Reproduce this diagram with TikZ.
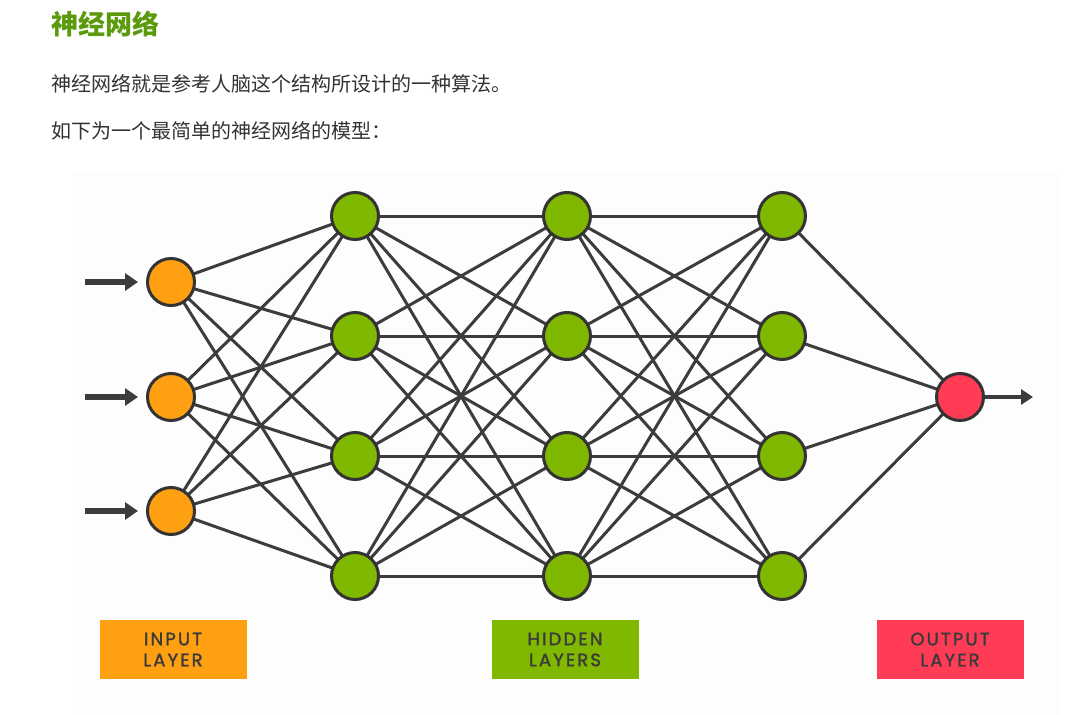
\documentclass[tikz,border=0pt]{standalone}
\usepackage{fontspec}
\newfontfamily\cjk{Noto Sans CJK SC}
\newfontfamily\labelfont[LetterSpace=12,FakeBold=1.6]{Poppins}
\usetikzlibrary{arrows.meta}
\definecolor{titlegreen}{HTML}{5B9A0C}
\definecolor{bodytext}{HTML}{333333}
\definecolor{inorange}{HTML}{FFA012}
\definecolor{hidgreen}{HTML}{80B800}
\definecolor{outred}{HTML}{FF3B55}
\definecolor{edgegray}{HTML}{3C3C3C}
\definecolor{bordergray}{HTML}{333333}
\definecolor{labeltext}{HTML}{3A3A3A}
\definecolor{panelbg}{HTML}{FDFDFD}
\pgfdeclarelayer{bg}
\pgfsetlayers{bg,main}
\tikzset{
  neuron/.style={circle, draw=bordergray, line width=3pt, minimum size=47pt, inner sep=0pt},
  innode/.style={neuron, fill=inorange},
  hidnode/.style={neuron, fill=hidgreen},
  outnode/.style={neuron, fill=outred},
  link/.style={draw=edgegray, line width=3pt},
  inarrow/.style={draw=edgegray, line width=5.5pt, -{Triangle[length=13pt,width=17pt]}, shorten >=8pt},
  outarrow/.style={draw=edgegray, line width=4pt, -{Triangle[length=12pt,width=15pt]}},
  layerbox/.style={fill=#1, minimum width=147pt, minimum height=59pt, inner sep=0pt,
    font=\labelfont\fontsize{18}{21}\selectfont, text=labeltext, align=center},
  textline/.style={anchor=west, inner sep=0pt, text=bodytext, font=\cjk\fontsize{20}{24}\selectfont}
}
\begin{document}
\begin{tikzpicture}[x=1pt,y=-1pt]
\useasboundingbox (0,0) rectangle (1080,715);
% texts
\node[textline, text=titlegreen, font=\cjk\bfseries\fontsize{27}{30}\selectfont] (title) at (51,24) {神经网络};
\node[textline] (line1) at (51,84) {神经网络就是参考人脑这个结构所设计的一种算法。};
\node[textline] (line2) at (51,131) {如下为一个最简单的神经网络的模型：};
% nodes
\foreach \i/\y in {1/282,2/397,3/511} \node[innode] (i\i) at (171,\y) {};
\foreach \i/\y in {1/216,2/336,3/456,4/576} {
  \node[hidnode] (a\i) at (355,\y) {};
  \node[hidnode] (b\i) at (567,\y) {};
  \node[hidnode] (c\i) at (782,\y) {};
}
\node[outnode] (o) at (960,397) {};
% background and edges
\begin{pgfonlayer}{bg}
\fill[white] (0,0) rectangle (1080,715);
\fill[panelbg] (72,173) rectangle (1060,715);
\foreach \i in {1,2,3} \foreach \j in {1,2,3,4} \draw[link] (i\i.center) -- (a\j.center);
\foreach \i in {1,2,3,4} \foreach \j in {1,2,3,4} {
  \draw[link] (a\i.center) -- (b\j.center);
  \draw[link] (b\i.center) -- (c\j.center);
}
\foreach \i in {1,2,3,4} \draw[link] (c\i.center) -- (o.center);
\end{pgfonlayer}
% arrows
\foreach \i/\y in {1/282,2/397,3/511} {
  \coordinate (s\i) at (85,\y);
  \draw[inarrow] (s\i) -- (i\i.west);
}
\coordinate (oend) at (1033,397);
\draw[outarrow] (o.east) -- (oend);
% labels
\node[layerbox=inorange] (linput) at (173,649.5) {INPUT\\LAYER};
\node[layerbox=hidgreen] (lhidden) at (565,649.5) {HIDDEN\\LAYERS};
\node[layerbox=outred] (loutput) at (950,649.5) {OUTPUT\\LAYER};
\end{tikzpicture}
\end{document}
